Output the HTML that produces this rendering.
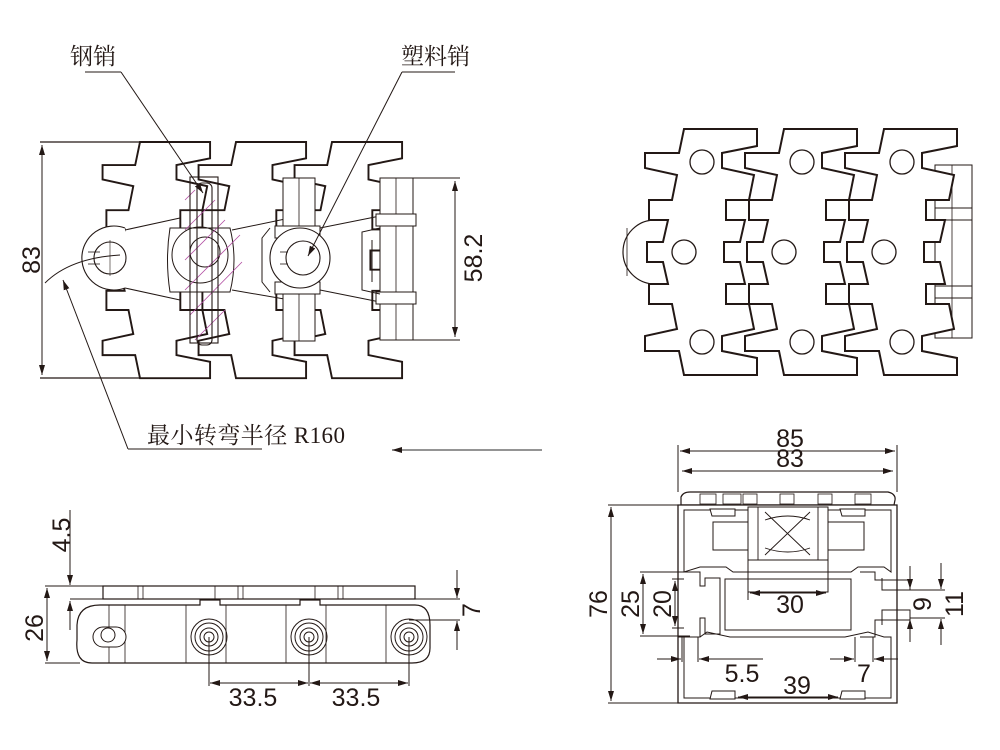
<!DOCTYPE html>
<html><head><meta charset="utf-8"><style>
html,body{margin:0;padding:0;background:#fff;}
svg{display:block;}
.t{font-family:"Liberation Sans","DejaVu Sans",sans-serif;font-size:25px;fill:#231815;}
.c{font-family:"Liberation Serif","Noto Serif CJK SC",serif;font-size:23px;fill:#231815;}
</style></head><body>
<svg width="1000" height="750" viewBox="0 0 1000 750" xmlns="http://www.w3.org/2000/svg">
<defs>
<marker id="a" viewBox="0 0 10 6" refX="10" refY="3" markerWidth="10" markerHeight="6" orient="auto-start-reverse" markerUnits="userSpaceOnUse">
<path d="M0,0 L10,3 L0,6 z" fill="#231815"/></marker>
<path id="plate" fill="#fff" stroke="#231815" stroke-width="2" d="M684,129 L757,129 L757,146 L722,153 L722,168 L754,175 L749,200 L726,200 L726,220 L745,220 L740,242 L724,242 L724,262 L740,262 L745,284 L726,284 L726,304 L749,304 L754,329 L722,336 L722,351 L757,358 L757,375 L684,375 L679,351 L645,351 L645,336 L677,329 L672,304 L649,304 L649,284 L668,284 L663,262 L647,262 L647,242 L663,242 L668,220 L649,220 L649,200 L672,200 L677,175 L645,168 L645,153 L679,153 Z"/>
<g id="holes" fill="none" stroke="#231815" stroke-width="1.3">
<circle cx="702" cy="162" r="12"/><circle cx="684" cy="252" r="12"/><circle cx="702" cy="342" r="12"/></g>
</defs>

<!-- ===== TOP RIGHT VIEW ===== -->
<path d="M660,220 A32,32 0 0 0 660,284" fill="#fff" stroke="#231815" stroke-width="1.2" transform="translate(-5,0)"/>
<line x1="627" y1="228" x2="627" y2="276" stroke="#231815" stroke-width="0.8"/>
<rect x="935" y="165" width="37" height="173" fill="none" stroke="#231815" stroke-width="1"/>
<rect x="935" y="208" width="37" height="12" fill="none" stroke="#231815" stroke-width="1"/>
<rect x="935" y="286" width="37" height="12" fill="none" stroke="#231815" stroke-width="1"/>
<line x1="952" y1="165" x2="952" y2="338" stroke="#231815" stroke-width="0.8"/>
<use href="#plate" x="200"/><use href="#holes" x="200"/>
<use href="#plate" x="100"/><use href="#holes" x="100"/>
<use href="#plate"/><use href="#holes"/>

<!-- ===== TOP LEFT VIEW ===== -->
<g transform="translate(140,142) scale(0.96) translate(-684,-129)">
<use href="#plate" x="200"/>
<use href="#plate" x="100"/>
<use href="#plate"/>
</g>
<line x1="40" y1="142" x2="140" y2="142" stroke="#231815" stroke-width="1.2"/>
<line x1="40" y1="378" x2="140" y2="378" stroke="#231815" stroke-width="1.2"/>
<line x1="42" y1="145" x2="42" y2="375" stroke="#231815" stroke-width="1" marker-start="url(#a)" marker-end="url(#a)"/>
<text class="t" transform="translate(40,260) rotate(-90)" text-anchor="middle">83</text>
<path d="M125,228 A32,32 0 1 0 125,288" fill="#fff" stroke="#231815" stroke-width="1.1"/>
<circle cx="110" cy="258" r="16" fill="#fff" stroke="#231815" stroke-width="1.1"/>
<line x1="88" y1="252" x2="100" y2="252" stroke="#231815" stroke-width="0.8"/>
<line x1="88" y1="264" x2="100" y2="264" stroke="#231815" stroke-width="0.8"/>
<line x1="110" y1="240" x2="110" y2="276" stroke="#231815" stroke-width="0.6"/>
<line x1="125" y1="230" x2="180" y2="218" stroke="#231815" stroke-width="1"/>
<line x1="125" y1="288" x2="180" y2="300" stroke="#231815" stroke-width="1"/>
<path d="M170,228 L230,228 Q238,260 230,292 L170,292 Q165,260 170,228 Z" fill="#fff" stroke="#231815" stroke-width="1"/>
<circle cx="200" cy="255" r="28" fill="none" stroke="#231815" stroke-width="1"/>
<circle cx="205" cy="252" r="15" fill="none" stroke="#231815" stroke-width="1"/>
<path d="M232,230 L290,218 M232,290 L290,300" stroke="#231815" stroke-width="1"/>
<g stroke="#b04aa0" stroke-width="0.8">
<line x1="185" y1="200" x2="195" y2="190"/><line x1="185" y1="230" x2="215" y2="200"/>
<line x1="185" y1="260" x2="225" y2="220"/><line x1="185" y1="290" x2="240" y2="235"/>
<line x1="190" y1="315" x2="242" y2="262"/><line x1="195" y1="340" x2="225" y2="310"/>
</g>
<rect x="190" y="177" width="28" height="166" fill="none" stroke="#231815" stroke-width="1.1"/>
<rect x="197" y="183" width="15" height="162" rx="5" fill="none" stroke="#231815" stroke-width="1.1"/>
<rect x="283" y="178" width="32" height="48" fill="#fff" stroke="#231815" stroke-width="1"/>
<rect x="283" y="293" width="32" height="48" fill="#fff" stroke="#231815" stroke-width="1"/>
<line x1="299" y1="178" x2="299" y2="341" stroke="#231815" stroke-width="0.8"/>
<path d="M275,226 L320,226 L320,238 L275,238 Z M275,282 L320,282 L320,294 L275,294 Z" fill="#fff" stroke="#231815" stroke-width="1"/>
<path d="M270,228 L262,238 L262,282 L270,292" fill="none" stroke="#231815" stroke-width="1"/>
<circle cx="300" cy="258" r="30" fill="#fff" stroke="#231815" stroke-width="1.1"/>
<circle cx="303" cy="258" r="17" fill="#fff" stroke="#231815" stroke-width="1.1"/>
<line x1="280" y1="252" x2="288" y2="252" stroke="#231815" stroke-width="0.8"/>
<line x1="280" y1="264" x2="288" y2="264" stroke="#231815" stroke-width="0.8"/>
<path d="M320,228 L380,216 M320,290 L380,302" stroke="#231815" stroke-width="1"/>
<rect x="380" y="178" width="33" height="162" fill="#fff" stroke="#231815" stroke-width="1"/>
<line x1="396" y1="178" x2="396" y2="340" stroke="#231815" stroke-width="0.8"/>
<rect x="376" y="214" width="40" height="12" fill="#fff" stroke="#231815" stroke-width="1"/>
<rect x="376" y="292" width="40" height="12" fill="#fff" stroke="#231815" stroke-width="1"/>
<path d="M380,228 L362,232 L362,290 L380,294 M372,240 L372,282" fill="none" stroke="#231815" stroke-width="1"/>
<line x1="413" y1="178" x2="460" y2="178" stroke="#231815" stroke-width="1"/>
<line x1="413" y1="340" x2="460" y2="340" stroke="#231815" stroke-width="1"/>
<line x1="455" y1="181" x2="455" y2="337" stroke="#231815" stroke-width="1" marker-start="url(#a)" marker-end="url(#a)"/>
<text class="t" transform="translate(482,258) rotate(-90)" text-anchor="middle">58.2</text>
<path d="M45,283 Q70,258 120,255" fill="none" stroke="#231815" stroke-width="0.9"/>
<text class="c" x="70" y="64">钢销</text>
<line x1="85" y1="72" x2="121" y2="72" stroke="#231815" stroke-width="1"/>
<line x1="121" y1="72" x2="203" y2="193" stroke="#231815" stroke-width="1" marker-end="url(#a)"/>
<text class="c" x="401" y="64">塑料销</text>
<line x1="402" y1="72" x2="455" y2="72" stroke="#231815" stroke-width="1"/>
<line x1="402" y1="72" x2="308" y2="256" stroke="#231815" stroke-width="1" marker-end="url(#a)"/>
<text class="c" x="147" y="443" textLength="198">最小转弯半径 R160</text>
<line x1="128" y1="449" x2="262" y2="449" stroke="#231815" stroke-width="1"/>
<line x1="128" y1="449" x2="63" y2="280" stroke="#231815" stroke-width="1" marker-end="url(#a)"/>
<line x1="542" y1="450" x2="392" y2="450" stroke="#555" stroke-width="1.2" marker-end="url(#a)"/>

<!-- ===== BOTTOM LEFT SIDE VIEW ===== -->
<rect x="103" y="586" width="312" height="13" fill="#fff" stroke="#231815" stroke-width="1.2"/>
<g stroke="#231815" stroke-width="0.8"><line x1="138" y1="586" x2="138" y2="599"/><line x1="143" y1="586" x2="143" y2="599"/>
<line x1="238" y1="586" x2="238" y2="599"/><line x1="243" y1="586" x2="243" y2="599"/>
<line x1="338" y1="586" x2="338" y2="599"/><line x1="343" y1="586" x2="343" y2="599"/>
<line x1="215" y1="586" x2="215" y2="599"/><line x1="315" y1="586" x2="315" y2="599"/></g>
<path d="M100,605 L200,605 L200,600 L220,600 L220,605 L300,605 L300,600 L320,600 L320,605 L415,605 Q430,605 430,625 L430,648 Q430,663 412,663 L92,663 Q75,663 77,640 L77,625 Q78,605 100,605 Z" fill="#fff" stroke="#231815" stroke-width="1.2"/>
<g stroke="#231815" stroke-width="0.8"><line x1="125" y1="605" x2="125" y2="663"/><line x1="186" y1="605" x2="186" y2="663"/>
<line x1="226" y1="605" x2="226" y2="663"/><line x1="286" y1="605" x2="286" y2="663"/><line x1="326" y1="605" x2="326" y2="663"/><line x1="386" y1="605" x2="386" y2="663"/>
<line x1="109" y1="605" x2="109" y2="663"/></g>
<rect x="93" y="627" width="33" height="20" rx="10" fill="#fff" stroke="#231815" stroke-width="1"/>
<circle cx="108" cy="635" r="7" fill="#fff" stroke="#231815" stroke-width="1"/>
<g fill="none" stroke="#231815" stroke-width="1">
<circle cx="209" cy="637" r="18"/><circle cx="209" cy="637" r="14"/><circle cx="209" cy="637" r="9"/><circle cx="209" cy="637" r="5"/>
<circle cx="309" cy="637" r="18"/><circle cx="309" cy="637" r="14"/><circle cx="309" cy="637" r="9"/><circle cx="309" cy="637" r="5"/>
<circle cx="409" cy="637" r="18"/><circle cx="409" cy="637" r="14"/><circle cx="409" cy="637" r="9"/><circle cx="409" cy="637" r="5"/></g>
<line x1="45" y1="586" x2="103" y2="586" stroke="#231815" stroke-width="1"/>
<line x1="70" y1="599" x2="103" y2="599" stroke="#231815" stroke-width="1"/>
<line x1="45" y1="663" x2="80" y2="663" stroke="#231815" stroke-width="1"/>
<line x1="70" y1="510" x2="70" y2="585" stroke="#231815" stroke-width="1" marker-end="url(#a)"/>
<line x1="70" y1="630" x2="70" y2="601" stroke="#231815" stroke-width="1" marker-end="url(#a)"/>
<text class="t" transform="translate(70,535) rotate(-90)" text-anchor="middle">4.5</text>
<line x1="47" y1="588" x2="47" y2="661" stroke="#231815" stroke-width="1" marker-start="url(#a)" marker-end="url(#a)"/>
<text class="t" transform="translate(43,628) rotate(-90)" text-anchor="middle">26</text>
<line x1="415" y1="599" x2="460" y2="599" stroke="#231815" stroke-width="1"/>
<line x1="409" y1="620" x2="460" y2="620" stroke="#231815" stroke-width="1"/>
<line x1="457" y1="570" x2="457" y2="598" stroke="#231815" stroke-width="1" marker-end="url(#a)"/>
<line x1="457" y1="650" x2="457" y2="621" stroke="#231815" stroke-width="1" marker-end="url(#a)"/>
<text class="t" transform="translate(462,610) rotate(-90)" text-anchor="middle" dy="18">7</text>
<line x1="209" y1="637" x2="209" y2="686" stroke="#231815" stroke-width="1"/>
<line x1="309" y1="637" x2="309" y2="686" stroke="#231815" stroke-width="1"/>
<line x1="409" y1="637" x2="409" y2="686" stroke="#231815" stroke-width="1"/>
<line x1="210" y1="683" x2="308" y2="683" stroke="#231815" stroke-width="1" marker-start="url(#a)" marker-end="url(#a)"/>
<line x1="310" y1="683" x2="408" y2="683" stroke="#231815" stroke-width="1" marker-start="url(#a)" marker-end="url(#a)"/>
<text class="t" x="253" y="706" text-anchor="middle">33.5</text>
<text class="t" x="356" y="706" text-anchor="middle">33.5</text>

<!-- ===== BOTTOM RIGHT CROSS SECTION ===== -->
<path d="M681,505 L681,497 Q683,492 690,492 L888,492 Q896,494 895,500 L894,505 Z" fill="#fff" stroke="#231815" stroke-width="1.2"/>
<g stroke="#231815" stroke-width="0.8" fill="none">
<rect x="700" y="494" width="16" height="10"/><rect x="723" y="494" width="18" height="10"/><rect x="743" y="494" width="14" height="10"/><rect x="780" y="494" width="14" height="10"/><rect x="818" y="494" width="14" height="10"/><rect x="855" y="494" width="16" height="10"/></g>
<path d="M678,505 L897,505 L897,703 L678,703 Z" fill="#fff" stroke="#231815" stroke-width="1.3"/>
<path d="M684,510 L891,510 L891,572 L884,567 L858,567 L851,572 L733,572 L726,567 L700,567 L684,572 Z" fill="none" stroke="#231815" stroke-width="1"/>
<path d="M684,637 L700,637 L707,632 L730,637 L845,637 L868,632 L884,637 L891,637 L891,698 L684,698 Z" fill="none" stroke="#231815" stroke-width="1"/>
<rect x="725" y="579" width="126" height="51" fill="none" stroke="#231815" stroke-width="1"/>
<path d="M678,572 L700,572 L700,586 L705,586 L705,578 L720,578 L720,634 L705,634 L705,618 L700,618 L700,637 L678,637 M860,572 L875,572 L875,580 L897,580 M860,637 L875,637 L875,620 L897,620" fill="none" stroke="#231815" stroke-width="1"/>
<path d="M897,580 L910,580 L910,590 L882,590 L882,578 M897,620 L910,620 L910,610 L882,610 L882,625" fill="none" stroke="#231815" stroke-width="1"/>
<rect x="713" y="522" width="36" height="28" fill="#fff" stroke="#231815" stroke-width="1"/>
<rect x="828" y="522" width="36" height="28" fill="#fff" stroke="#231815" stroke-width="1"/>
<rect x="748" y="507" width="80" height="53" fill="#fff" stroke="#231815" stroke-width="1"/>
<path d="M758,507 L758,560 M818,507 L818,560 M765,512 L810,555 M810,512 L765,555 M765,520 Q788,512 810,520 M765,548 Q788,556 810,548" fill="none" stroke="#231815" stroke-width="0.9"/>
<rect x="748" y="560" width="80" height="32" fill="none" stroke="#231815" stroke-width="1"/>
<path d="M710,509 L735,509 L735,516 L712,516 Z M840,509 L865,509 L865,516 L842,516 Z M710,699 L735,699 L735,691 L712,691 Z M840,699 L865,699 L865,691 L842,691 Z" fill="#fff" stroke="#231815" stroke-width="1"/>
<line x1="678" y1="492" x2="678" y2="445" stroke="#231815" stroke-width="1"/>
<line x1="897" y1="492" x2="897" y2="445" stroke="#231815" stroke-width="1"/>
<line x1="680" y1="451" x2="895" y2="451" stroke="#231815" stroke-width="1" marker-start="url(#a)" marker-end="url(#a)"/>
<line x1="682" y1="471" x2="893" y2="471" stroke="#231815" stroke-width="1" marker-start="url(#a)" marker-end="url(#a)"/>
<text class="t" x="790" y="447" text-anchor="middle">85</text>
<text class="t" x="790" y="467" text-anchor="middle">83</text>
<line x1="608" y1="505" x2="678" y2="505" stroke="#231815" stroke-width="1"/>
<line x1="608" y1="703" x2="678" y2="703" stroke="#231815" stroke-width="1"/>
<line x1="611" y1="507" x2="611" y2="701" stroke="#231815" stroke-width="1" marker-start="url(#a)" marker-end="url(#a)"/>
<text class="t" transform="translate(607,604) rotate(-90)" text-anchor="middle">76</text>
<line x1="640" y1="572" x2="690" y2="572" stroke="#231815" stroke-width="1"/>
<line x1="640" y1="636" x2="690" y2="636" stroke="#231815" stroke-width="1"/>
<line x1="643" y1="574" x2="643" y2="634" stroke="#231815" stroke-width="1" marker-start="url(#a)" marker-end="url(#a)"/>
<text class="t" transform="translate(639,604) rotate(-90)" text-anchor="middle">25</text>
<line x1="672" y1="579" x2="684" y2="579" stroke="#231815" stroke-width="1"/>
<line x1="672" y1="628" x2="684" y2="628" stroke="#231815" stroke-width="1"/>
<line x1="675" y1="581" x2="675" y2="626" stroke="#231815" stroke-width="1" marker-start="url(#a)" marker-end="url(#a)"/>
<text class="t" transform="translate(671,604) rotate(-90)" text-anchor="middle">20</text>
<line x1="748" y1="592" x2="748" y2="600" stroke="#231815" stroke-width="1"/>
<line x1="750" y1="593" x2="826" y2="593" stroke="#231815" stroke-width="1" marker-start="url(#a)" marker-end="url(#a)"/>
<text class="t" x="790" y="613" text-anchor="middle">30</text>
<line x1="910" y1="590" x2="945" y2="590" stroke="#231815" stroke-width="1"/>
<line x1="910" y1="618" x2="945" y2="618" stroke="#231815" stroke-width="1"/>
<line x1="910" y1="566" x2="910" y2="589" stroke="#231815" stroke-width="1" marker-end="url(#a)"/>
<line x1="910" y1="642" x2="910" y2="619" stroke="#231815" stroke-width="1" marker-end="url(#a)"/>
<line x1="941" y1="563" x2="941" y2="589" stroke="#231815" stroke-width="1" marker-end="url(#a)"/>
<line x1="941" y1="645" x2="941" y2="619" stroke="#231815" stroke-width="1" marker-end="url(#a)"/>
<text class="t" transform="translate(931,604) rotate(-90)" text-anchor="middle">9</text>
<text class="t" transform="translate(963,604) rotate(-90)" text-anchor="middle">11</text>
<line x1="682" y1="637" x2="682" y2="662" stroke="#231815" stroke-width="1"/>
<line x1="698" y1="637" x2="698" y2="662" stroke="#231815" stroke-width="1"/>
<line x1="657" y1="659" x2="681" y2="659" stroke="#231815" stroke-width="1" marker-end="url(#a)"/>
<line x1="763" y1="659" x2="699" y2="659" stroke="#231815" stroke-width="1" marker-end="url(#a)"/>
<text class="t" x="742" y="682" text-anchor="middle">5.5</text>
<line x1="855" y1="637" x2="855" y2="662" stroke="#231815" stroke-width="1"/>
<line x1="873" y1="637" x2="873" y2="662" stroke="#231815" stroke-width="1"/>
<line x1="830" y1="659" x2="854" y2="659" stroke="#231815" stroke-width="1" marker-end="url(#a)"/>
<line x1="898" y1="659" x2="874" y2="659" stroke="#231815" stroke-width="1" marker-end="url(#a)"/>
<text class="t" x="864" y="682" text-anchor="middle">7</text>
<line x1="738" y1="697" x2="838" y2="697" stroke="#231815" stroke-width="1" marker-start="url(#a)" marker-end="url(#a)"/>
<text class="t" x="797" y="694" text-anchor="middle">39</text>
</svg>
</body></html>
